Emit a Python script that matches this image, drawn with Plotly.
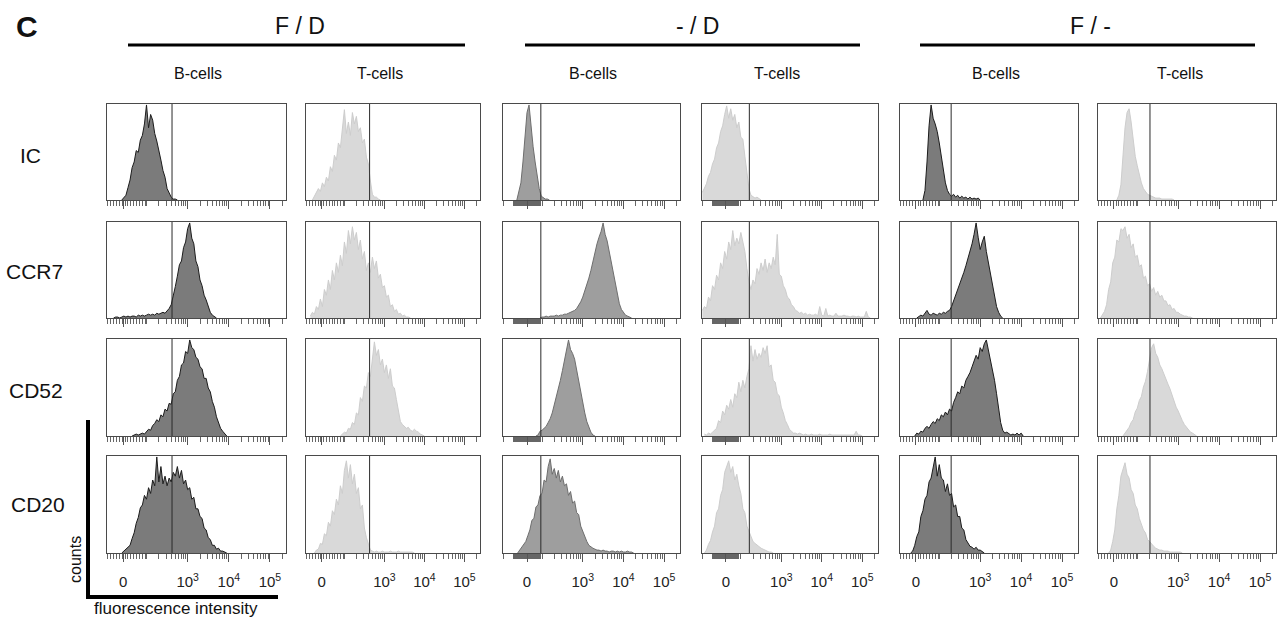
import math
import plotly.graph_objects as go

# ---------------- data ----------------
# each histogram: (first bin position on the display axis, counts in % of panel height)
STEP = 0.05  # bin width on the display axis

ROW_LABELS = ["IC", "CCR7", "CD52", "CD20"]
GROUP_LABELS = ["F / D", "- / D", "F / -"]
CELL_LABELS = ["B-cells", "T-cells", "B-cells", "T-cells", "B-cells", "T-cells"]
TICK_TEXT = ["0", "10<sup>3</sup>", "10<sup>4</sup>", "10<sup>5</sup>"]
DECADES = [3, 4, 5]
ZERO_POS = [1.43, 1.43, 1.63, 1.63, 1.43, 1.43]
GATES = [2.62, 2.63, 1.97, 2.21, 2.29, 2.31]

# IC
fd_b_ic = (1.40, [0, 2, 5, 13, 21, 34, 40, 52, 50, 63, 68, 80, 100, 76, 90, 84, 70, 62, 50, 42, 31, 24, 12, 8, 3, 1, 1, 0])
fd_t_ic = (1.20, [0, 4, 7, 12, 9, 18, 14, 24, 20, 35, 30, 47, 42, 60, 55, 75, 95, 70, 82, 68, 92, 80, 88, 72, 76, 60, 64, 45, 38, 20, 6, 3, 3, 1, 0])
md_b_ic = (1.38, [0, 8, 18, 40, 66, 92, 100, 76, 56, 40, 27, 12, 4, 2, 1, 1, 0])
md_t_ic = (1.05, [8, 12, 17, 25, 29, 38, 43, 55, 60, 72, 78, 90, 99, 86, 96, 84, 90, 76, 82, 66, 64, 46, 30, 12, 5, 3, 2, 3, 1, 0])
fm_b_ic = (1.60, [0, 10, 40, 78, 100, 86, 80, 72, 60, 46, 30, 18, 10, 6, 4, 6, 3, 5, 2, 4, 2, 3, 1, 3, 1, 2, 1, 2, 0])
fm_t_ic = (1.50, [0, 5, 16, 45, 76, 92, 96, 82, 62, 46, 36, 26, 18, 12, 9, 6, 5, 4, 3, 2, 2, 2, 1, 1, 1, 1, 1, 1, 0])

# CCR7
fd_b_ccr7 = (1.20, [0, 1, 1, 0, 1, 2, 1, 2, 1, 2, 2, 1, 3, 2, 3, 2, 3, 4, 3, 4, 3, 5, 4, 5, 6, 5, 7, 10, 14, 22,
                    33, 44, 56, 60, 74, 80, 94, 100, 84, 78, 60, 54, 40, 34, 24, 19, 12, 6, 3, 1, 0])
fd_t_ccr7 = (1.15, [2, 6, 4, 12, 9, 20, 12, 30, 24, 40, 30, 50, 40, 58, 48, 66, 55, 80, 68, 92, 78, 96, 82, 90, 72,
                    82, 62, 70, 50, 58, 48, 64, 52, 60, 42, 46, 32, 34, 22, 24, 12, 14, 7, 9, 4, 5, 2, 3, 1, 1, 0])
md_b_ccr7 = (1.95, [0, 1, 1, 2, 1, 2, 2, 2, 3, 2, 3, 3, 4, 4, 5, 6, 7, 8, 10, 13, 17, 22, 28, 35, 42, 50, 60, 70,
                    78, 85, 91, 100, 88, 81, 70, 60, 48, 35, 24, 15, 9, 6, 3, 2, 1, 0])
md_t_ccr7 = (1.05, [8, 12, 10, 22, 18, 34, 30, 45, 40, 58, 52, 70, 62, 80, 72, 92, 76, 84, 78, 90, 80, 70, 52, 38,
                    30, 40, 36, 52, 46, 58, 50, 62, 48, 58, 52, 64, 56, 88, 46, 44, 34, 30, 22, 20, 14, 12, 8, 7,
                    5, 6, 4, 5, 3, 4, 3, 3, 4, 2, 12, 3, 2, 10, 2, 3, 2, 2, 5, 2, 2, 2, 3, 2, 2, 1, 2, 2, 1, 2,
                    1, 1, 1, 7, 1, 0])
fm_b_ccr7 = (1.45, [0, 2, 3, 2, 5, 8, 4, 3, 5, 4, 3, 5, 4, 6, 5, 7, 8, 12, 18, 24, 28, 34, 40, 48, 55, 62, 70, 78,
                    88, 100, 85, 72, 80, 86, 70, 58, 45, 35, 22, 12, 6, 2, 0])
fm_t_ccr7 = (1.10, [0, 3, 7, 14, 30, 38, 58, 64, 82, 80, 94, 92, 96, 84, 88, 74, 78, 64, 66, 54, 56, 42, 44, 34, 36,
                    28, 32, 24, 28, 22, 24, 18, 18, 13, 14, 9, 10, 6, 6, 4, 3, 2, 2, 1, 1, 0])

# CD52
fd_b_cd52 = (1.65, [0, 1, 2, 1, 2, 3, 2, 4, 7, 6, 11, 13, 17, 15, 22, 20, 28, 26, 34, 33, 44, 46, 58, 62, 74, 76,
                    88, 86, 100, 92, 90, 82, 80, 72, 70, 60, 60, 50, 46, 36, 30, 20, 15, 8, 5, 2, 0])
fd_t_cd52 = (1.90, [0, 2, 4, 3, 8, 7, 14, 12, 24, 22, 40, 36, 52, 50, 66, 62, 82, 98, 84, 90, 74, 80, 66, 74, 60,
                    70, 52, 50, 38, 26, 15, 12, 10, 8, 9, 6, 5, 7, 5, 4, 2, 1, 0])
md_b_cd52 = (1.85, [0, 1, 5, 6, 8, 10, 14, 18, 24, 32, 40, 50, 58, 68, 78, 88, 100, 90, 86, 80, 68, 60, 45, 34, 24,
                    15, 9, 4, 1, 0])
md_t_cd52 = (1.10, [2, 1, 3, 2, 4, 6, 8, 16, 14, 26, 22, 32, 28, 38, 30, 44, 40, 56, 46, 58, 50, 62, 70, 94, 78,
                    90, 80, 86, 82, 92, 86, 94, 72, 74, 58, 56, 44, 42, 30, 24, 16, 12, 7, 5, 3, 3, 2, 3, 2, 1,
                    2, 1, 1, 2, 1, 1, 1, 2, 1, 1, 1, 1, 2, 1, 1, 1, 1, 1, 1, 1, 1, 1, 1, 1, 1, 5, 1, 1, 0])
fm_b_cd52 = (1.40, [0, 3, 2, 5, 4, 8, 10, 8, 12, 15, 13, 18, 16, 22, 20, 25, 22, 28, 26, 35, 40, 46, 44, 52, 50,
                    58, 62, 66, 72, 78, 84, 80, 92, 88, 96, 100, 90, 80, 70, 58, 44, 30, 14, 6, 3, 4, 2, 1, 2, 1,
                    3, 1, 3, 0])
fm_t_cd52 = (1.65, [0, 3, 6, 9, 14, 17, 25, 29, 37, 41, 51, 57, 67, 78, 92, 96, 86, 82, 74, 70, 64, 60, 54, 49, 42,
                    37, 30, 26, 20, 16, 12, 9, 6, 4, 3, 1, 0])

# CD20
fd_b_cd20 = (1.40, [0, 2, 4, 7, 8, 15, 21, 31, 37, 47, 50, 60, 56, 68, 62, 76, 70, 100, 74, 90, 72, 80, 70, 78, 74,
                    84, 80, 90, 78, 86, 72, 76, 66, 68, 56, 58, 46, 46, 38, 36, 26, 24, 16, 14, 8, 8, 4, 5, 2, 2,
                    1, 0])
fd_t_cd20 = (1.25, [0, 3, 4, 10, 9, 20, 18, 32, 28, 44, 40, 56, 50, 70, 62, 86, 96, 78, 92, 72, 82, 62, 68, 46, 50,
                    26, 16, 8, 3, 2, 1, 2, 1, 1, 2, 1, 1, 1, 2, 1, 1, 1, 2, 1, 1, 1, 1, 1, 1, 1, 0])
md_b_cd20 = (1.40, [0, 3, 5, 9, 12, 18, 24, 34, 36, 48, 50, 60, 62, 76, 74, 90, 98, 82, 88, 78, 86, 74, 80, 70, 72,
                    60, 64, 52, 54, 42, 40, 28, 22, 16, 12, 8, 6, 5, 4, 3, 3, 2, 3, 2, 2, 1, 2, 2, 1, 2, 1, 2, 1,
                    1, 2, 1, 1, 0])
md_t_cd20 = (1.10, [0, 3, 9, 13, 22, 28, 42, 46, 60, 66, 84, 90, 96, 84, 90, 76, 82, 70, 62, 46, 42, 28, 22, 16, 12,
                    10, 8, 6, 5, 4, 3, 2, 1, 1, 0])
fm_b_cd20 = (1.30, [0, 2, 8, 17, 22, 38, 44, 56, 60, 74, 78, 88, 100, 80, 92, 78, 76, 64, 72, 60, 62, 48, 50, 38, 38,
                    26, 24, 14, 11, 7, 6, 4, 6, 3, 3, 1, 0])
fm_t_cd20 = (1.30, [0, 3, 12, 24, 46, 60, 80, 86, 94, 82, 78, 66, 62, 50, 46, 36, 31, 24, 21, 14, 12, 9, 7, 5, 4, 3,
                    3, 2, 2, 2, 1, 1, 1, 1, 1, 1, 0])

GRID = [
    [fd_b_ic, fd_t_ic, md_b_ic, md_t_ic, fm_b_ic, fm_t_ic],
    [fd_b_ccr7, fd_t_ccr7, md_b_ccr7, md_t_ccr7, fm_b_ccr7, fm_t_ccr7],
    [fd_b_cd52, fd_t_cd52, md_b_cd52, md_t_cd52, fm_b_cd52, fm_t_cd52],
    [fd_b_cd20, fd_t_cd20, md_b_cd20, md_t_cd20, fm_b_cd20, fm_t_cd20],
]

# ---------------- layout / style ----------------
W, H = 1282, 621
FONT = "Liberation Sans, Arial, sans-serif"
COL_PX = [(107, 286), (306, 480), (503, 680), (702, 878), (900, 1078), (1098, 1276)]
ROW_PX = [(104, 200), (222, 318), (339, 436), (456, 553)]
FILL = ["#7b7b7b", "#d9d9d9", "#9e9e9e", "#d9d9d9", "#7b7b7b", "#d9d9d9"]
LINE = ["#1c1c1c", "#cdcdcd", "#6e6e6e", "#cdcdcd", "#1c1c1c", "#cdcdcd"]
XR = [1.04, 5.39]

log_minor = [n + math.log10(k) for n in (2, 3, 4) for k in range(2, 10)] + [2.0, 5.301]
lin_a = [1.06 + 0.07 * i for i in range(14)]
lin_b = [1.04, 1.31] + [1.33 + 0.02 * i for i in range(32)]
MINOR = [lin_a, lin_a, lin_b, lin_b, lin_a, lin_a]


def px(x):
    return x / W


def py(y):
    return 1 - y / H


fig = go.Figure()
layout = {}
shapes = []
n = 0
for r in range(4):
    for c in range(6):
        n += 1
        sfx = "" if n == 1 else str(n)
        xa, ya = "x" + sfx, "y" + sfx
        start, counts = GRID[r][c]
        xs = [round(start + i * STEP, 3) for i in range(len(counts))]
        fig.add_trace(go.Scatter(
            x=xs, y=counts, xaxis=xa, yaxis=ya, mode="lines", fill="tozeroy",
            fillcolor=FILL[c], line=dict(color=LINE[c], width=1),
            hoverinfo="skip", showlegend=False))
        x0, x1 = COL_PX[c]
        y0, y1 = ROW_PX[r]
        layout["xaxis" + sfx] = dict(
            domain=[px(x0), px(x1)], anchor=ya, range=XR, showgrid=False, zeroline=False,
            showline=True, mirror=True, linecolor="#4a4a4a", linewidth=1,
            tickmode="array", tickvals=[ZERO_POS[c]] + DECADES, ticktext=TICK_TEXT,
            ticks="outside", ticklen=8, tickcolor="#555555", tickwidth=1,
            showticklabels=(r == 3), ticklabelstandoff=7,
            tickfont=dict(family=FONT, size=15, color="#222222"),
            minor=dict(tickmode="array", tickvals=MINOR[c] + log_minor, ticks="outside",
                       ticklen=5, tickcolor="#666666", tickwidth=1),
            fixedrange=True)
        layout["yaxis" + sfx] = dict(
            domain=[py(y1), py(y0)], anchor=xa, range=[0, 101], showgrid=False, zeroline=False,
            showline=True, mirror=True, linecolor="#4a4a4a", linewidth=1,
            showticklabels=False, ticks="", fixedrange=True)
        shapes.append(dict(type="line", xref=xa, yref=ya + " domain", x0=GATES[c], x1=GATES[c],
                           y0=0, y1=1, line=dict(color="#2a2a2a", width=1)))

annotations = []


def txt(s, x, y, size, bold=False, angle=0):
    annotations.append(dict(text=("<b>%s</b>" % s) if bold else s, x=px(x), y=py(y), xref="paper",
                            yref="paper", showarrow=False, xanchor="center", yanchor="middle",
                            textangle=angle, font=dict(family=FONT, size=size, color="#111111")))


txt("C", 27, 27, 30, bold=True)
for label, cx in zip(GROUP_LABELS, [300, 697, 1090]):
    txt(label, cx, 26, 23)
for (a, b) in [(128, 465), (525, 860), (920, 1255)]:
    shapes.append(dict(type="line", xref="paper", yref="paper", x0=px(a), x1=px(b), y0=py(45), y1=py(45),
                       line=dict(color="#000000", width=3)))
for label, cx in zip(CELL_LABELS, [198, 380, 593, 777, 996, 1180]):
    txt(label, cx, 74, 16)
for label, (cx, cy) in zip(ROW_LABELS, [(30, 155), (34, 272), (36, 390), (38, 505)]):
    txt(label, cx, cy, 21)

# scale indicator
shapes.append(dict(type="line", xref="paper", yref="paper", x0=px(88), x1=px(88), y0=py(420), y1=py(597),
                   line=dict(color="#000000", width=4)))
shapes.append(dict(type="line", xref="paper", yref="paper", x0=px(86), x1=px(278), y0=py(597), y1=py(597),
                   line=dict(color="#000000", width=4)))
txt("counts", 75, 560, 16, angle=-90)
txt("fluorescence intensity", 176, 608, 17)

fig.update_layout(
    width=W, height=H, margin=dict(l=0, r=0, t=0, b=0),
    paper_bgcolor="white", plot_bgcolor="white",
    shapes=shapes, annotations=annotations, showlegend=False, **layout)

fig.write_html("out.html", config=dict(displayModeBar=False))
